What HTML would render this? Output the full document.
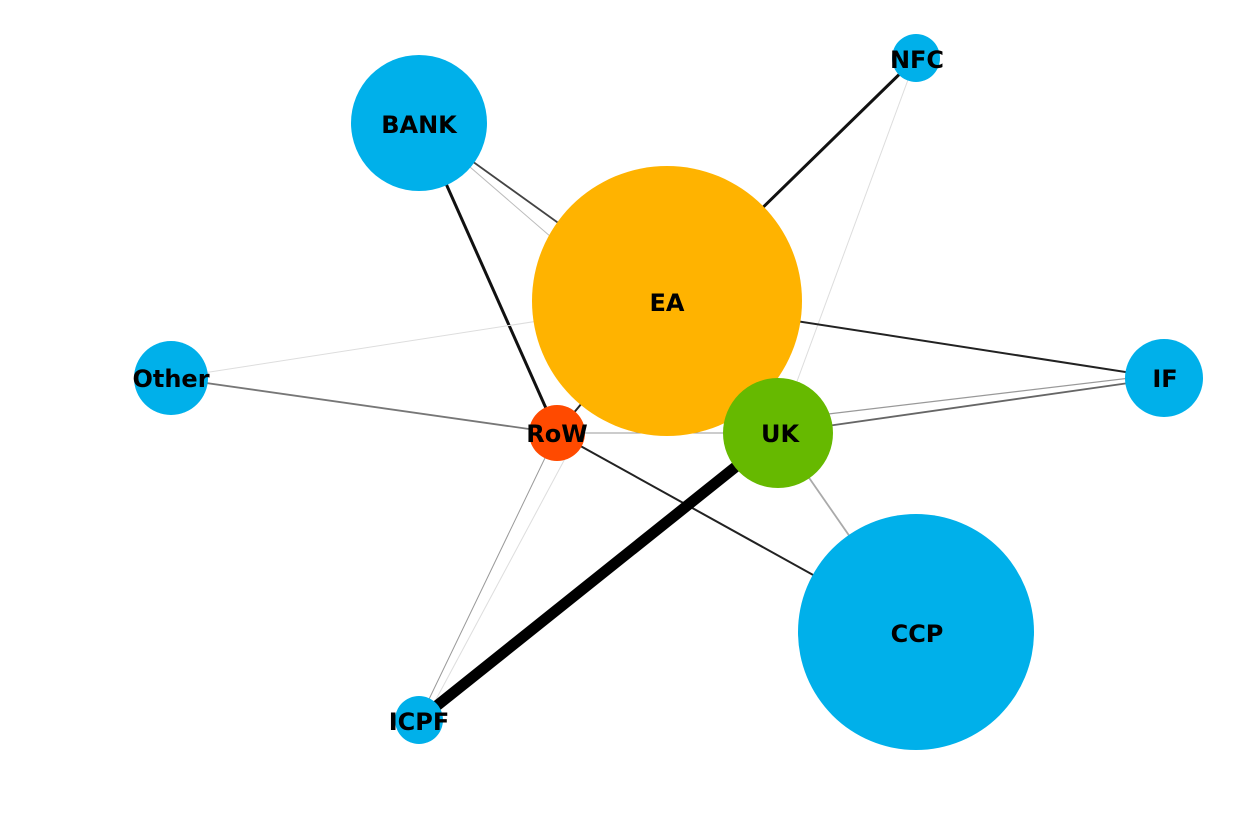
<!DOCTYPE html>
<html><head><meta charset="utf-8"><style>
html,body{margin:0;padding:0;background:#fff;width:1240px;height:815px;overflow:hidden}
text{font-family:"DejaVu Sans","Liberation Sans",sans-serif;font-weight:bold;font-size:24px;fill:#000;text-anchor:middle;dominant-baseline:central}
</style></head><body>
<svg width="1240" height="815" viewBox="0 0 1240 815" xmlns="http://www.w3.org/2000/svg">
<g fill="none" stroke-linecap="butt">
<line x1="419" y1="123" x2="667" y2="301" stroke="#444" stroke-width="1.8"/>
<line x1="419" y1="123" x2="778" y2="433" stroke="#bbb" stroke-width="1"/>
<line x1="419" y1="123" x2="557" y2="433" stroke="#111" stroke-width="3"/>
<line x1="916" y1="58" x2="667" y2="301" stroke="#111" stroke-width="3"/>
<line x1="916" y1="58" x2="778" y2="433" stroke="#ddd" stroke-width="1"/>
<line x1="667" y1="301" x2="1164" y2="378" stroke="#222" stroke-width="2"/>
<line x1="778" y1="433" x2="1164" y2="378" stroke="#666" stroke-width="1.8"/>
<line x1="778" y1="420" x2="1164" y2="374" stroke="#999" stroke-width="1.2"/>
<line x1="171" y1="378" x2="557" y2="433" stroke="#777" stroke-width="1.8"/>
<line x1="171" y1="378" x2="667" y2="301" stroke="#ddd" stroke-width="1"/>
<line x1="557" y1="433" x2="778" y2="433" stroke="#999" stroke-width="1"/>
<line x1="557" y1="433" x2="667" y2="301" stroke="#222" stroke-width="2"/>
<line x1="557" y1="433" x2="916" y2="632" stroke="#222" stroke-width="2"/>
<line x1="557" y1="433" x2="419" y2="720" stroke="#999" stroke-width="1"/>
<line x1="575" y1="440" x2="425" y2="720" stroke="#ddd" stroke-width="1"/>
<line x1="778" y1="433" x2="916" y2="632" stroke="#aaa" stroke-width="1.8"/>
<line x1="778" y1="433" x2="419" y2="720" stroke="#000" stroke-width="11"/>
</g>
<circle cx="419" cy="123" r="68" fill="#00b0ea"/>
<circle cx="916" cy="58" r="24" fill="#00b0ea"/>
<circle cx="171" cy="378" r="37" fill="#00b0ea"/>
<circle cx="1164" cy="378" r="39" fill="#00b0ea"/>
<circle cx="916" cy="632" r="118" fill="#00b0ea"/>
<circle cx="419" cy="720" r="24" fill="#00b0ea"/>
<circle cx="667" cy="301" r="135" fill="#ffb300"/>
<circle cx="557" cy="433" r="28" fill="#ff4a00"/>
<circle cx="778" cy="433" r="55" fill="#66b900"/>
<text x="419" y="125">BANK</text>
<text x="917" y="60">NFC</text>
<text x="171" y="379">Other</text>
<text x="1165" y="379">IF</text>
<text x="667" y="303">EA</text>
<text x="557" y="434">RoW</text>
<text x="780" y="434">UK</text>
<text x="917" y="634">CCP</text>
<text x="419" y="722">ICPF</text>
</svg>
</body></html>
